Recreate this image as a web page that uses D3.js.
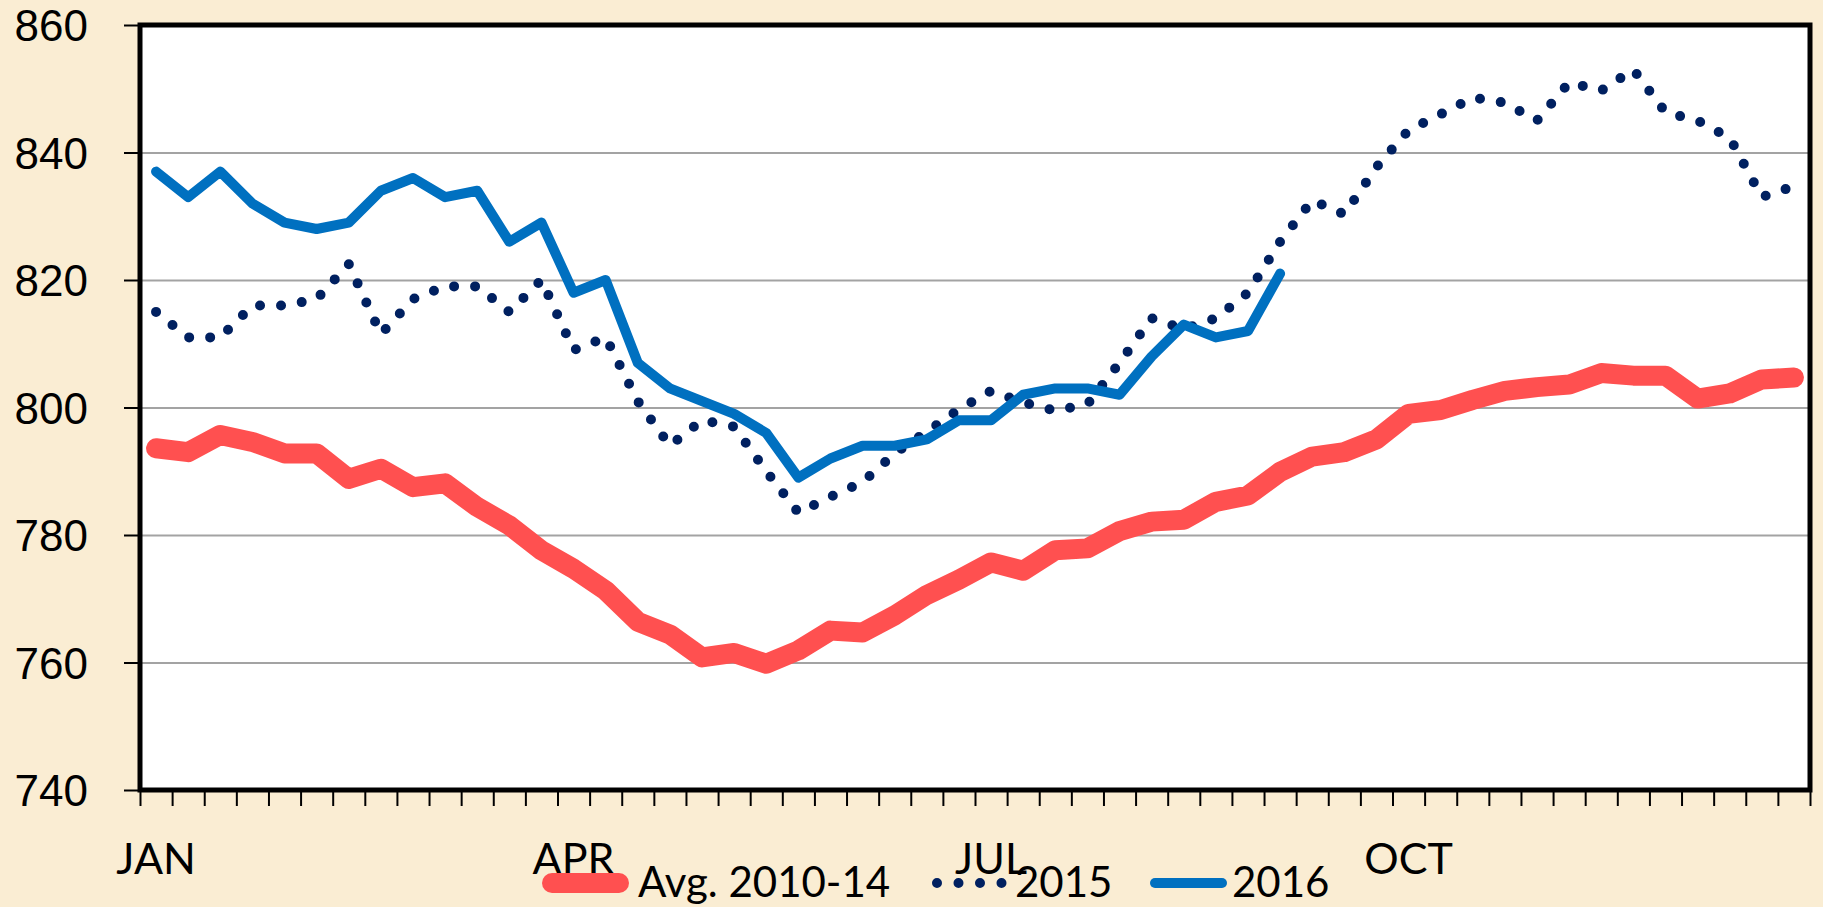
<!DOCTYPE html>
<html>
<head>
<meta charset="utf-8">
<script src="https://cdn.jsdelivr.net/npm/d3@7"></script>
<style>
  html, body { margin: 0; padding: 0; background: #faedd3; }
  svg { display: block; font-family: Lato, "Open Sans", sans-serif; }
</style>
</head>
<body>
<div id="chart"></div>
<script>
/* weekly values, one per week of the year */
const WEEKS = [1,2,3,4,5,6,7,8,9,10,11,12,13,14,15,16,17,18,19,20,21,22,23,24,25,26,
  27,28,29,30,31,32,33,34,35,36,37,38,39,40,41,42,43,44,45,46,47,48,49,50,51,52];

const AVG_2010_14 = [793.6,793.0,795.7,794.6,792.8,792.8,788.8,790.4,787.5,788.1,784.4,781.5,777.6,
  774.7,771.3,766.4,764.4,760.8,761.5,759.8,761.9,765.0,764.7,767.4,770.6,773.0,775.7,774.4,777.6,
  777.9,780.6,782.1,782.4,785.2,786.2,789.9,792.3,793.0,795.0,799.0,799.6,801.2,802.6,803.2,803.6,
  805.4,805.0,805.0,801.4,802.2,804.4,804.7];

const Y2015 = [815,811,811,816,816,817,822.5,811.5,817,819,819,815,820,809,811,801,794,798,797,790,
  783.5,786,788.3,792.8,796.2,799.7,802.6,800.8,799.5,800.5,807,814,812.3,814,818,826,832.5,830.3,
  837.7,843.5,846,848.6,847.8,845,851,849.7,853,846.3,845,842.3,833,834.7];

const Y2016 = [837,833,837,832,829,828,829,834,836,833,834,826,829,818,820,807,803,801,799,796,789,
  792,794,794,795,798,798,802,803,803,802,808,813,811,812,821];

const Y_TICKS = [740,760,780,800,820,840,860];
const MONTHS = ["JAN","APR","JUL","OCT"];
const MONTH_WEEK = [1,14,27,40];
const NAMES = ["Avg. 2010-14","2015","2016"];

const W = 1823, H = 907;
const M = { top: 25, right: 13, bottom: 117, left: 140 };
const IW = W - M.left - M.right, IH = H - M.top - M.bottom;

const x = d3.scaleBand().domain(WEEKS).range([0, IW]).padding(0);
const xb = d3.scaleLinear().domain([0, WEEKS.length]).range([0, IW]);   // category boundaries
const y = d3.scaleLinear().domain([740, 860]).range([IH, 0]);
const cx = w => x(w) + x.bandwidth() / 2;

const svg = d3.select("#chart").append("svg")
  .attr("width", W).attr("height", H).attr("viewBox", `0 0 ${W} ${H}`);

const g = svg.append("g").attr("transform", `translate(${M.left},${M.top})`);

g.append("rect").attr("width", IW).attr("height", IH).attr("fill", "#fff");

// gridlines
g.append("g")
  .call(d3.axisLeft(y).tickValues(Y_TICKS).tickSize(-IW).tickFormat(""))
  .call(s => s.select(".domain").remove())
  .selectAll("line").attr("stroke", "#a3a3a3").attr("stroke-width", 2);

// y axis (outer ticks + labels)
const ya = g.append("g")
  .call(d3.axisLeft(y).tickValues(Y_TICKS).tickSize(16).tickPadding(36).tickFormat(d3.format("d")));
ya.select(".domain").remove();
ya.selectAll("line").attr("stroke", "#000").attr("stroke-width", 2);
ya.selectAll("text").attr("font-size", 44).attr("fill", "#000").attr("dy", "0.36em");

// x axis: tick marks at category boundaries
const xa = g.append("g").attr("transform", `translate(0,${IH})`)
  .call(d3.axisBottom(xb).tickValues(d3.range(0, WEEKS.length + 1))
    .tickSize(16).tickFormat(""));
xa.select(".domain").remove();
xa.selectAll("line").attr("stroke", "#000").attr("stroke-width", 2);

// month labels
g.selectAll("text.month").data(MONTHS).enter().append("text").attr("class", "month")
  .attr("x", (d, i) => cx(MONTH_WEEK[i])).attr("y", IH + 84)
  .attr("text-anchor", "middle").attr("font-size", 43).attr("fill", "#000")
  .text(d => d);

// series
const line = d3.line().x(d => cx(d.w)).y(d => y(d.v));
const toPts = arr => arr.map((v, i) => ({ w: WEEKS[i], v }));

g.append("path").datum(toPts(AVG_2010_14))
  .attr("d", line).attr("fill", "none").attr("stroke", "#ff5050")
  .attr("stroke-width", 20).attr("stroke-linejoin", "round").attr("stroke-linecap", "round");

g.append("path").datum(toPts(Y2015))
  .attr("d", line).attr("fill", "none").attr("stroke", "#002060")
  .attr("stroke-width", 10).attr("stroke-linecap", "round").attr("stroke-dasharray", "0 21");

g.append("path").datum(toPts(Y2016))
  .attr("d", line).attr("fill", "none").attr("stroke", "#0070c0")
  .attr("stroke-width", 10).attr("stroke-linejoin", "round").attr("stroke-linecap", "round");

// plot frame
g.append("rect").attr("width", IW).attr("height", IH)
  .attr("fill", "none").attr("stroke", "#000").attr("stroke-width", 5);

// legend
const LEG = [
  { x1: 552, x2: 619, tx: 638, color: "#ff5050", w: 20, dash: null },
  { x1: 937, x2: 1002, tx: 1015, color: "#002060", w: 10, dash: "0 21.5" },
  { x1: 1155, x2: 1222, tx: 1232, color: "#0070c0", w: 10, dash: null }
];
const lg = svg.append("g");
const items = lg.selectAll("g").data(NAMES).enter().append("g");
items.append("line")
  .attr("x1", (d, i) => LEG[i].x1).attr("x2", (d, i) => LEG[i].x2)
  .attr("y1", 883).attr("y2", 883)
  .attr("stroke", (d, i) => LEG[i].color).attr("stroke-width", (d, i) => LEG[i].w)
  .attr("stroke-linecap", "round").attr("stroke-dasharray", (d, i) => LEG[i].dash);
items.append("text")
  .attr("x", (d, i) => LEG[i].tx).attr("y", 897)
  .attr("font-size", 42).attr("fill", "#000")
  .text(d => d);
</script>
</body>
</html>
